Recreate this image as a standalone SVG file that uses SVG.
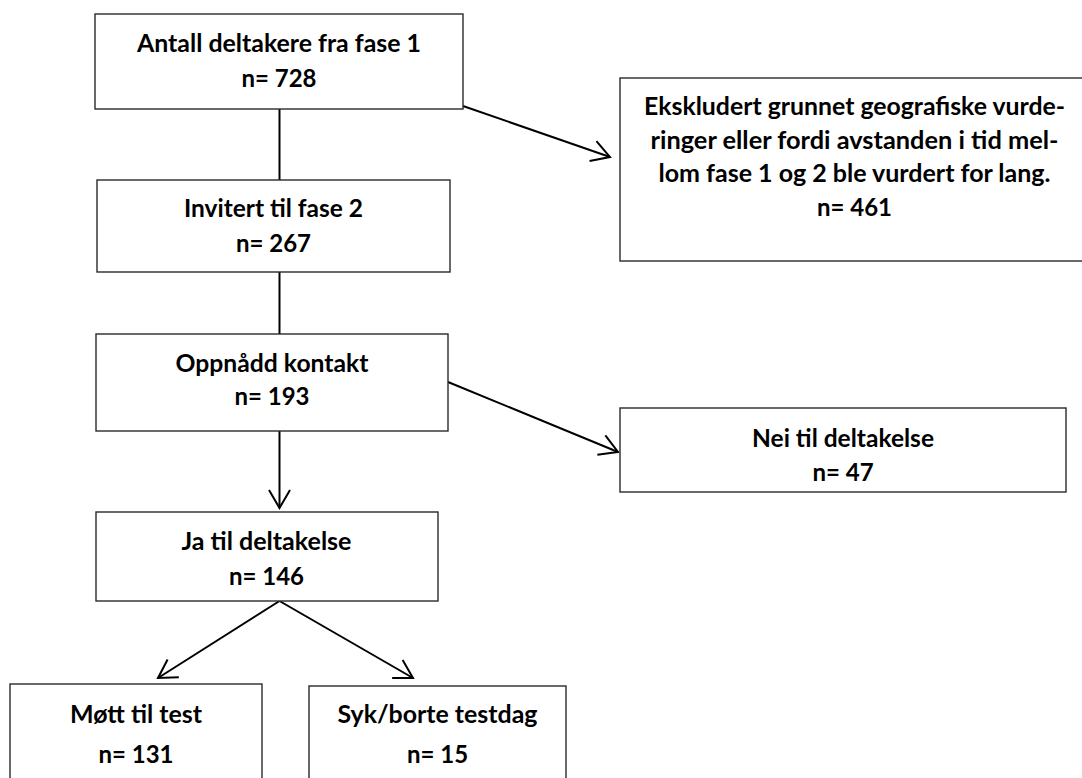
<svg xmlns="http://www.w3.org/2000/svg" width="1082" height="778" viewBox="0 0 1082 778">
  <style>
    .box { fill: #ffffff; stroke: #2a2a2a; stroke-width: 1.4; }
    .lbl { font-family: Lato, "Open Sans", "Liberation Sans", sans-serif; font-weight: bold; font-size: 24px; fill: #000000; text-anchor: middle; }
    .conn { stroke: #000000; stroke-width: 2; fill: none; }
  </style>
  <defs>
    <marker id="open" viewBox="-22 -12 24 24" refX="0" refY="0" markerWidth="24" markerHeight="24" markerUnits="userSpaceOnUse" orient="auto">
      <path d="M-18,-10.5 L0,0 L-18,10.5" fill="none" stroke="#000000" stroke-width="2"/>
    </marker>
  </defs>
  <rect width="1082" height="778" fill="#ffffff"/>

  <g id="connectors">
    <line class="conn" x1="279.5" y1="109" x2="279.5" y2="180"/>
    <line class="conn" x1="279.5" y1="272" x2="279.5" y2="334"/>
    <line class="conn" x1="279.5" y1="431" x2="279.5" y2="508" marker-end="url(#open)"/>
    <line class="conn" x1="463" y1="106" x2="610" y2="157" marker-end="url(#open)"/>
    <line class="conn" x1="448" y1="382" x2="618" y2="452" marker-end="url(#open)"/>
    <line class="conn" x1="279.5" y1="601" x2="158" y2="678" marker-end="url(#open)"/>
    <line class="conn" x1="279.5" y1="601" x2="413" y2="678" marker-end="url(#open)"/>
  </g>

  <g id="n-fase1">
    <rect class="box" x="95" y="14" width="368" height="95"/>
    <text class="lbl" x="279" y="52" textLength="284" lengthAdjust="spacingAndGlyphs">Antall deltakere fra fase 1</text>
    <text class="lbl" x="279" y="87">n= 728</text>
  </g>

  <g id="n-ekskludert">
    <rect class="box" x="620" y="78" width="480" height="183"/>
    <text class="lbl" x="854.5" y="115" textLength="421" lengthAdjust="spacingAndGlyphs">Ekskludert grunnet geografiske vurde-</text>
    <text class="lbl" x="854.5" y="148.5" textLength="408" lengthAdjust="spacingAndGlyphs">ringer eller fordi avstanden i tid mel-</text>
    <text class="lbl" x="854.5" y="182" textLength="392" lengthAdjust="spacingAndGlyphs">lom fase 1 og 2 ble vurdert for lang.</text>
    <text class="lbl" x="854.5" y="215.5">n= 461</text>
  </g>

  <g id="n-invitert">
    <rect class="box" x="97" y="180" width="353" height="92"/>
    <text class="lbl" x="273.5" y="217" textLength="179" lengthAdjust="spacingAndGlyphs">Invitert til fase 2</text>
    <text class="lbl" x="273.5" y="252">n= 267</text>
  </g>

  <g id="n-kontakt">
    <rect class="box" x="96" y="334" width="352" height="97"/>
    <text class="lbl" x="272" y="372" textLength="193" lengthAdjust="spacingAndGlyphs">Oppnådd kontakt</text>
    <text class="lbl" x="272" y="405">n= 193</text>
  </g>

  <g id="n-nei">
    <rect class="box" x="620" y="408" width="446" height="84"/>
    <text class="lbl" x="843" y="447" textLength="182" lengthAdjust="spacingAndGlyphs">Nei til deltakelse</text>
    <text class="lbl" x="843" y="481">n= 47</text>
  </g>

  <g id="n-ja">
    <rect class="box" x="96" y="512" width="342" height="89"/>
    <text class="lbl" x="266.5" y="550" textLength="170" lengthAdjust="spacingAndGlyphs">Ja til deltakelse</text>
    <text class="lbl" x="266.5" y="585">n= 146</text>
  </g>

  <g id="n-mott">
    <rect class="box" x="10" y="684" width="252" height="110"/>
    <text class="lbl" x="136" y="723" textLength="132" lengthAdjust="spacingAndGlyphs">Møtt til test</text>
    <text class="lbl" x="136" y="763">n= 131</text>
  </g>

  <g id="n-syk">
    <rect class="box" x="309" y="686" width="257" height="110"/>
    <text class="lbl" x="437.5" y="723" textLength="200" lengthAdjust="spacingAndGlyphs">Syk/borte testdag</text>
    <text class="lbl" x="437.5" y="763">n= 15</text>
  </g>
</svg>
